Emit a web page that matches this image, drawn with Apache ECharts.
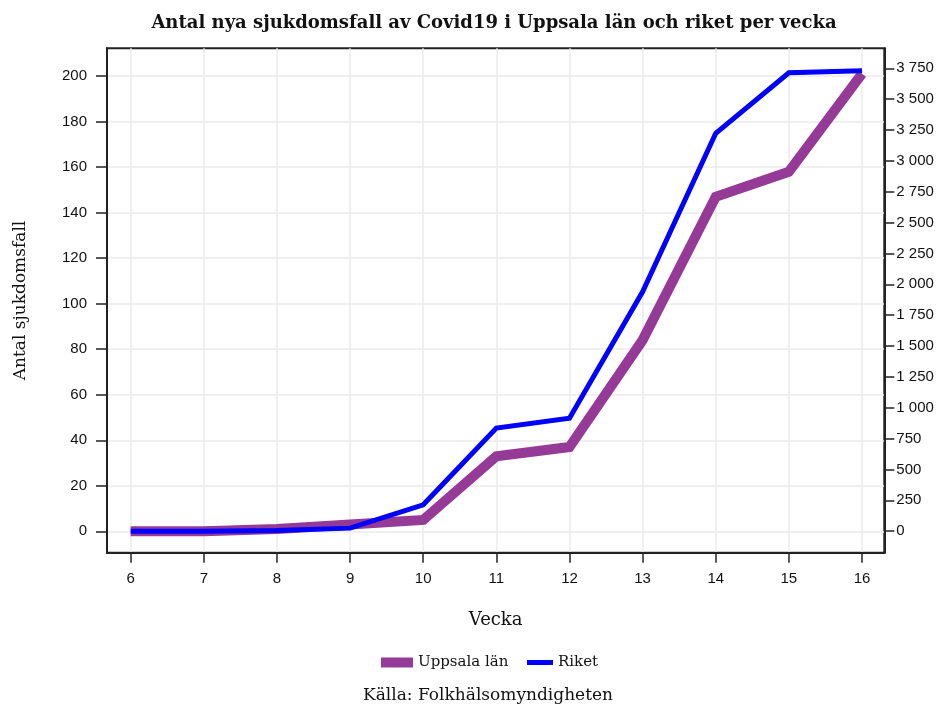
<!DOCTYPE html>
<html>
<head>
<meta charset="utf-8">
<script src="https://cdn.jsdelivr.net/npm/echarts@6/dist/echarts.min.js"></script>
<style>html,body{margin:0;padding:0;background:#fff}#c{width:943px;height:706px}</style>
</head>
<body>
<div id="c"></div>
<script>
const weeks = [6, 7, 8, 9, 10, 11, 12, 13, 14, 15, 16];
const uppsala = [0, 0, 1, 3, 5, 33, 37, 84, 147, 158, 201];
const riket = [0, 0, 5, 25, 214, 835, 916, 1939, 3224, 3714, 3730];
const leftTicks = [0, 20, 40, 60, 80, 100, 120, 140, 160, 180, 200];
const rightTicks = [0, 250, 500, 750, 1000, 1250, 1500, 1750, 2000, 2250, 2500, 2750, 3000, 3250, 3500, 3750];
const weekTicks = [6, 7, 8, 9, 10, 11, 12, 13, 14, 15, 16];

const serif = '"DejaVu Serif", "Liberation Serif", serif';
const sans = '"Liberation Sans", Arial, sans-serif';
const fmt = v => String(v).replace(/\B(?=(\d{3})+(?!\d))/g, ' ');

const chart = echarts.init(document.getElementById('c'));
chart.setOption({
  animation: false,
  backgroundColor: '#fff',
  title: [
    { text: 'Antal nya sjukdomsfall av Covid19 i Uppsala län och riket per vecka',
      left: 489, top: 9, textAlign: 'center',
      textStyle: { fontFamily: serif, fontWeight: 'bold', fontSize: 18, color: '#111' } },
    { text: 'Källa: Folkhälsomyndigheten', left: 483, top: 682, textAlign: 'center',
      textStyle: { fontFamily: serif, fontWeight: 'normal', fontSize: 17, color: '#111' } }
  ],
  legend: [
    { data: ['Uppsala län'], left: 381, top: 655, padding: 0, icon: 'rect', itemWidth: 32, itemHeight: 10,
      textStyle: { fontFamily: serif, fontSize: 15, color: '#111' } },
    { data: ['Riket'], left: 527, top: 655, padding: 0, icon: 'rect', itemWidth: 26, itemHeight: 5,
      textStyle: { fontFamily: serif, fontSize: 15, color: '#111' } }
  ],
  grid: { left: 107, right: 58.7, top: 48.3, bottom: 153.3, show: true, borderColor: '#222', borderWidth: 2, containLabel: false },
  xAxis: {
    type: 'value', min: 5.676, max: 16.305,
    name: 'Vecka', nameLocation: 'middle', nameGap: 59,
    nameTextStyle: { fontFamily: serif, fontSize: 18, color: '#111' },
    axisLine: { show: true, onZero: false, lineStyle: { color: '#222', width: 2 } },
    axisTick: { show: true, customValues: weekTicks, length: 10, lineStyle: { color: '#222', width: 1.5 } },
    axisLabel: { customValues: weekTicks, margin: 19, fontFamily: sans, fontSize: 15, color: '#111' },
    splitLine: { show: true, lineStyle: { color: '#ebebeb', width: 1.5 } }
  },
  yAxis: [
    { type: 'value', min: -9.4, max: 212.2, position: 'left',
      name: 'Antal sjukdomsfall', nameLocation: 'middle', nameGap: 78, nameRotate: 90,
      nameTextStyle: { fontFamily: serif, fontSize: 17, color: '#111' },
      axisLine: { show: true, lineStyle: { color: '#222', width: 2 } },
      axisTick: { show: true, customValues: leftTicks, length: 11, lineStyle: { color: '#222', width: 1.5 } },
      axisLabel: { customValues: leftTicks, margin: 20, fontFamily: sans, fontSize: 15, color: '#111' },
      splitLine: { show: true, lineStyle: { color: '#ebebeb', width: 1.5 } } },
    { type: 'value', min: -174, max: 3912, position: 'right',
      axisLine: { show: true, lineStyle: { color: '#222', width: 2 } },
      axisTick: { show: true, customValues: rightTicks, length: 10, lineStyle: { color: '#222', width: 1.5 } },
      axisLabel: { customValues: rightTicks, margin: 12, fontFamily: sans, fontSize: 15, color: '#111', formatter: fmt },
      splitLine: { show: false } }
  ],
  series: [
    { name: 'Uppsala län', type: 'line', yAxisIndex: 0, showSymbol: false, symbol: 'none',
      data: weeks.map((w, i) => [w, uppsala[i]]),
      itemStyle: { color: '#953a97' }, lineStyle: { color: '#953a97', width: 10, join: 'miter' } },
    { name: 'Riket', type: 'line', yAxisIndex: 1, showSymbol: false, symbol: 'none',
      data: weeks.map((w, i) => [w, riket[i]]),
      itemStyle: { color: '#0000ff' }, lineStyle: { color: '#0000ff', width: 5, join: 'miter' } }
  ]
});
</script>
</body>
</html>
